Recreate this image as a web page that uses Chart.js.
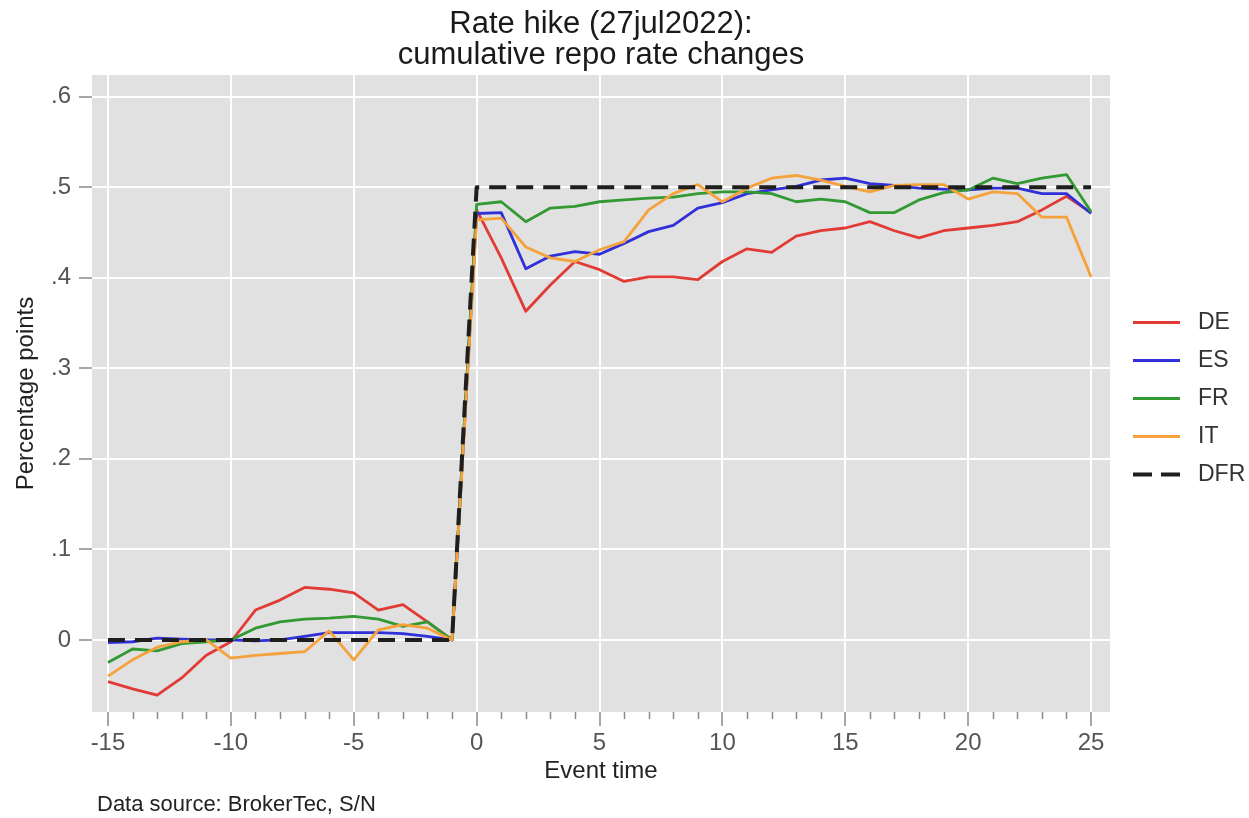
<!DOCTYPE html>
<html lang="en">
<head>
  <meta charset="UTF-8" />
  <title>Rate hike (27jul2022)</title>
  <style>
    body {
      margin: 0;
      background: #ffffff;
    }
    #wrap {
      width: 1249px;
      height: 818px;
    }
  </style>
</head>
<body>
  <div id="wrap"><canvas id="chart" width="1249" height="818"></canvas></div>

  <script src="https://cdn.jsdelivr.net/npm/chart.js"></script>
  <script>
    // event time, days around the 27 Jul 2022 hike
    const eventTime = [-15, -14, -13, -12, -11, -10, -9, -8, -7, -6, -5, -4, -3, -2, -1,
      0, 1, 2, 3, 4, 5, 6, 7, 8, 9, 10, 11, 12, 13, 14, 15, 16, 17, 18, 19, 20, 21, 22, 23, 24, 25];

    const de = [-0.046, -0.054, -0.061, -0.042, -0.017, -0.002, 0.033, 0.044, 0.058, 0.056, 0.052, 0.033, 0.039, 0.020, 0.000,
      0.475, 0.422, 0.363, 0.392, 0.418, 0.409, 0.396, 0.401, 0.401, 0.398, 0.418, 0.432, 0.428, 0.446, 0.452,
      0.455, 0.462, 0.452, 0.444, 0.452, 0.455, 0.458, 0.462, 0.475, 0.490, 0.472];
    const es = [-0.003, -0.002, 0.002, 0.001, 0.000, 0.000, -0.001, 0.000, 0.004, 0.008, 0.008, 0.008, 0.007, 0.004, 0.000,
      0.471, 0.472, 0.410, 0.424, 0.429, 0.426, 0.438, 0.451, 0.458, 0.477, 0.483, 0.493, 0.497, 0.501, 0.508,
      0.510, 0.504, 0.502, 0.499, 0.498, 0.497, 0.499, 0.499, 0.493, 0.493, 0.471];
    const fr = [-0.025, -0.010, -0.012, -0.004, -0.002, 0.000, 0.013, 0.020, 0.023, 0.024, 0.026, 0.023, 0.015, 0.020, 0.000,
      0.481, 0.484, 0.462, 0.477, 0.479, 0.484, 0.486, 0.488, 0.489, 0.493, 0.495, 0.495, 0.493, 0.484, 0.487,
      0.484, 0.472, 0.472, 0.486, 0.494, 0.497, 0.510, 0.504, 0.510, 0.514, 0.473];
    const it = [-0.040, -0.022, -0.008, -0.002, 0.000, -0.020, -0.017, -0.015, -0.013, 0.010, -0.022, 0.011, 0.017, 0.013, 0.000,
      0.464, 0.466, 0.434, 0.422, 0.418, 0.431, 0.440, 0.475, 0.493, 0.503, 0.484, 0.499, 0.510, 0.513, 0.508,
      0.501, 0.495, 0.502, 0.503, 0.503, 0.487, 0.495, 0.493, 0.467, 0.467, 0.401];
    const dfr = [0, 0, 0, 0, 0, 0, 0, 0, 0, 0, 0, 0, 0, 0, 0,
      0.5, 0.5, 0.5, 0.5, 0.5, 0.5, 0.5, 0.5, 0.5, 0.5, 0.5, 0.5, 0.5, 0.5, 0.5,
      0.5, 0.5, 0.5, 0.5, 0.5, 0.5, 0.5, 0.5, 0.5, 0.5, 0.5];

    const xMajorTicks = [-15, -10, -5, 0, 5, 10, 15, 20, 25];
    const xMinorTicks = [-14, -13, -12, -11, -9, -8, -7, -6, -4, -3, -2, -1,
      1, 2, 3, 4, 6, 7, 8, 9, 11, 12, 13, 14, 16, 17, 18, 19, 21, 22, 23, 24];
    const yTickValues = [0, 0.1, 0.2, 0.3, 0.4, 0.5, 0.6];
    const yTickLabels = ['0', '.1', '.2', '.3', '.4', '.5', '.6'];

    const titleLines = ['Rate hike (27jul2022):', 'cumulative repo rate changes'];

    const FONT = "'Liberation Sans', Arial, sans-serif";

    const pts = arr => eventTime.map((t, i) => ({ x: t, y: arr[i] }));

    // grey plot region + white page
    const plotBg = {
      id: 'plotBg',
      beforeDraw(chart) {
        const { ctx, chartArea: a } = chart;
        ctx.save();
        ctx.fillStyle = '#ffffff';
        ctx.fillRect(0, 0, chart.width, chart.height);
        ctx.fillStyle = '#e1e1e1';
        ctx.fillRect(a.left, a.top, a.right - a.left, a.bottom - a.top);
        ctx.restore();
      }
    };

    // title over the plot, minor x ticks, legend on the right, source note
    const extras = {
      id: 'extras',
      afterDraw(chart) {
        const { ctx, chartArea: a } = chart;
        const xs = chart.scales.x;
        ctx.save();

        ctx.font = '31px ' + FONT;
        ctx.fillStyle = '#1a1a1a';
        ctx.textAlign = 'center';
        ctx.textBaseline = 'alphabetic';
        titleLines.forEach((t, i) => ctx.fillText(t, (a.left + a.right) / 2, 33 + i * 31));

        ctx.strokeStyle = '#8a8a8a';
        ctx.lineWidth = 1.5;
        xMinorTicks.forEach(v => {
          const px = Math.round(xs.getPixelForValue(v)) + 0.5;
          ctx.beginPath();
          ctx.moveTo(px, a.bottom);
          ctx.lineTo(px, a.bottom + 7);
          ctx.stroke();
        });

        // legend
        const step = 38;
        const n = chart.data.datasets.length;
        const y0 = (a.top + a.bottom) / 2 + 5 - step * (n - 1) / 2;
        ctx.font = '23px ' + FONT;
        ctx.textBaseline = 'middle';
        ctx.textAlign = 'left';
        chart.data.datasets.forEach((ds, i) => {
          const y = y0 + i * step;
          ctx.beginPath();
          ctx.strokeStyle = ds.borderColor;
          ctx.lineWidth = ds.borderWidth;
          ctx.setLineDash(ds.borderDash ? [19, 9] : []);
          ctx.moveTo(a.right + 23, y);
          ctx.lineTo(a.right + 70, y);
          ctx.stroke();
          ctx.setLineDash([]);
          ctx.fillStyle = '#333333';
          ctx.fillText(ds.label, a.right + 88, y);
        });

        ctx.font = '22px ' + FONT;
        ctx.fillStyle = '#222222';
        ctx.fillText('Data source: BrokerTec, S/N', 97, 805);
        ctx.restore();
      }
    };

    const ctx = document.getElementById('chart').getContext('2d');
    const chart = new Chart(ctx, {
      type: 'line',
      data: {
        datasets: [
          { label: 'DE', data: pts(de), borderColor: '#e23b36', borderWidth: 2.8, order: 5 },
          { label: 'ES', data: pts(es), borderColor: '#3030d8', borderWidth: 2.8, order: 4 },
          { label: 'FR', data: pts(fr), borderColor: '#339933', borderWidth: 2.8, order: 3 },
          { label: 'IT', data: pts(it), borderColor: '#f5a23c', borderWidth: 2.8, order: 2 },
          { label: 'DFR', data: pts(dfr), borderColor: '#1e1e1e', borderWidth: 4, borderDash: [17, 10], order: 1 }
        ]
      },
      options: {
        responsive: false,
        animation: false,
        elements: {
          point: { radius: 0, hoverRadius: 0 },
          line: { tension: 0, fill: false, borderCapStyle: 'butt', borderJoinStyle: 'round' }
        },
        layout: { padding: { left: 0, right: 139, top: 75, bottom: 30 } },
        plugins: {
          legend: { display: false },
          tooltip: { enabled: false },
          title: { display: false }
        },
        scales: {
          x: {
            type: 'linear',
            min: -15.65,
            max: 25.77,
            afterBuildTicks: s => { s.ticks = xMajorTicks.map(v => ({ value: v })); },
            afterFit: s => { s.height = 76; },
            grid: { color: '#ffffff', lineWidth: 2, tickColor: '#8a8a8a', tickLength: 14, tickWidth: 1.5 },
            border: { display: false },
            ticks: {
              color: '#555555',
              font: { family: FONT, size: 24 },
              padding: 3,
              maxRotation: 0,
              autoSkip: false,
              callback: v => String(v)
            },
            title: {
              display: true,
              text: 'Event time',
              color: '#222222',
              font: { family: FONT, size: 24 },
              padding: { top: 0, bottom: 2 }
            }
          },
          y: {
            min: -0.0796,
            max: 0.624,
            afterBuildTicks: s => { s.ticks = yTickValues.map(v => ({ value: v })); },
            afterFit: s => { s.width = 92; },
            grid: { color: '#ffffff', lineWidth: 2, tickColor: '#8a8a8a', tickLength: 13, tickWidth: 1.5 },
            border: { display: false },
            ticks: {
              color: '#555555',
              font: { family: FONT, size: 24 },
              padding: 8,
              callback: (v, i) => yTickLabels[i]
            },
            title: {
              display: true,
              text: 'Percentage points',
              color: '#222222',
              font: { family: FONT, size: 24 },
              padding: { top: 12, bottom: 0 }
            }
          }
        }
      },
      plugins: [plotBg, extras]
    });
  </script>
</body>
</html>
